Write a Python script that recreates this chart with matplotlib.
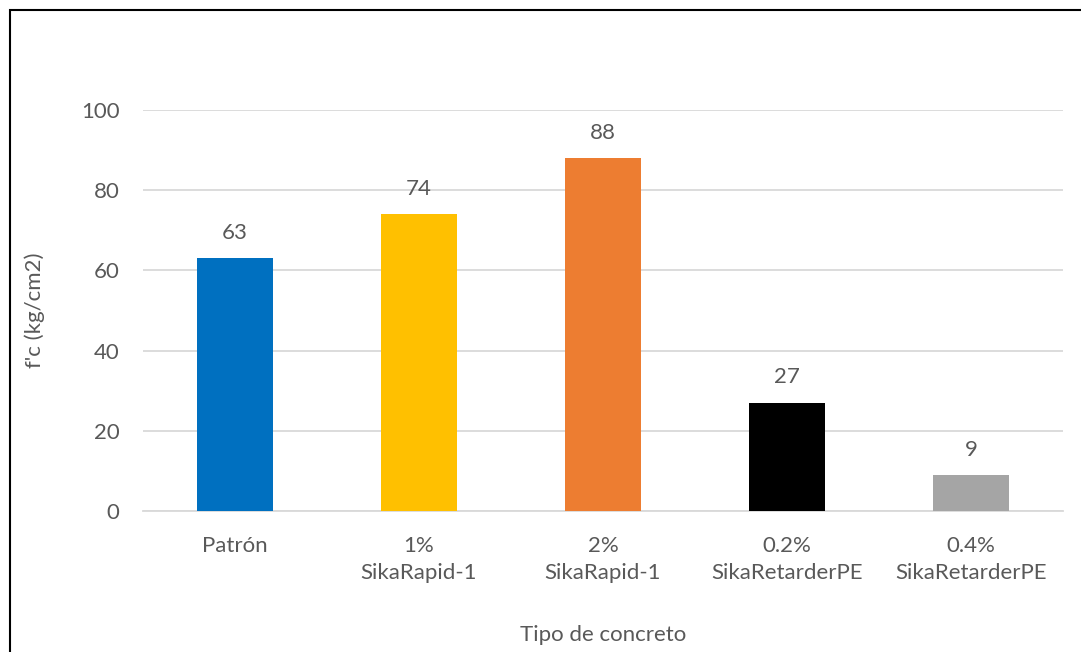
import matplotlib
matplotlib.use("Agg")
from matplotlib import pyplot as plt
from matplotlib.patches import Rectangle

categories = ["Patrón", "1%\nSikaRapid-1", "2%\nSikaRapid-1",
              "0.2%\nSikaRetarderPE", "0.4%\nSikaRetarderPE"]
values = [63, 74, 88, 27, 9]
colors = ["#0070C0", "#FFC000", "#ED7D31", "#000000", "#A5A5A5"]
yticks = [0, 20, 40, 60, 80, 100]

TEXT = "#595959"
plt.rcParams['font.family'] = ['Lato', 'DejaVu Sans']

fig = plt.figure(figsize=(10.81, 6.52), dpi=100)
ax = fig.add_axes([143 / 1081, 141 / 652, 920 / 1081, 401 / 652])

x = range(len(categories))
ax.bar(x, values, width=0.41, color=colors, zorder=3)
for xi, v in zip(x, values):
    ax.text(xi, v + 3.8, str(v), ha='center', va='bottom', fontsize=16, color=TEXT)

ax.set_xlim(-0.5, len(categories) - 0.5)
ax.set_ylim(0, 100)
ax.set_yticks(yticks)
ax.set_xticks(list(x))
ax.set_xticklabels(categories, fontsize=16, color=TEXT, linespacing=1.45)
ax.tick_params(axis='y', labelsize=16, labelcolor=TEXT, length=0, pad=17)
ax.tick_params(axis='x', length=0, pad=18)
ax.grid(axis='y', color="#D9D9D9", linewidth=1.3, zorder=0)
for s in ['top', 'right', 'left']:
    ax.spines[s].set_visible(False)
ax.spines['bottom'].set_color("#D9D9D9")
ax.spines['bottom'].set_linewidth(1.3)

ax.set_ylabel("f'c (kg/cm2)", fontsize=16, color=TEXT, labelpad=26)
ax.set_xlabel("Tipo de concreto", fontsize=16, color=TEXT, labelpad=30)

# chart border (right/bottom edges fall outside the image)
fig.patches.append(Rectangle((10 / 1081, -0.1), 1.2, 1 - 10 / 652 + 0.1,
                             transform=fig.transFigure, fill=False,
                             edgecolor="black", linewidth=1.5))

fig.savefig("out.png", dpi=100)
